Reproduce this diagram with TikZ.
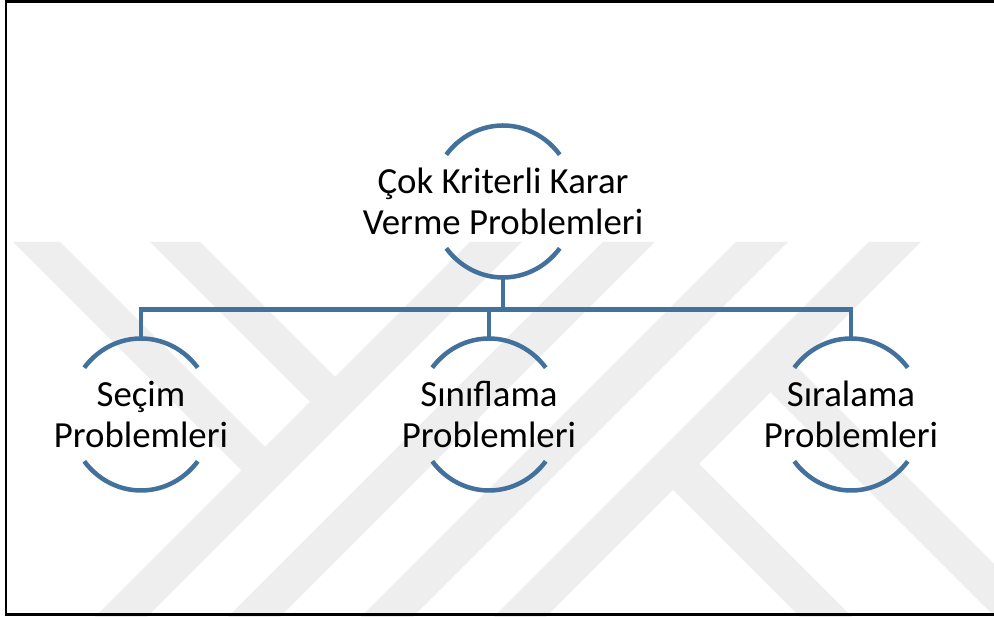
\documentclass[tikz,border=0pt]{standalone}
\usepackage{fontspec}
\setmainfont{Carlito}
\definecolor{arcblue}{RGB}{65,113,156}
\definecolor{markgray}{RGB}{238,238,238}
\begin{document}
\begin{tikzpicture}[x=1pt,y=1pt,
  band/.style={fill=markgray,draw=none},
  topic/.style={rectangle,minimum height=152pt,inner sep=0pt,align=center,
    text=black,font=\fontsize{36.8}{41}\selectfont},
  arcline/.style={draw=arcblue,line width=4.5pt},
  conn/.style={draw=arcblue,line width=4.5pt,line join=miter},
  frame/.style={draw=black,line width=2.5pt}]
\clip (0,0) rectangle (994,617);
\fill[white] (0,0) rectangle (994,617);

% background emblem: light diagonal bands
\fill[band] (13,375) -- (60,375) -- (277.5,157.5) -- (254,134) -- cycle;
\fill[band] (150,375) -- (200,375) -- (347.5,227.5) -- (322.5,202.5) -- cycle;
\fill[band] (470,375) -- (522,375) -- (147,0) -- (95,0) -- cycle;
\fill[band] (603,375) -- (655,375) -- (280,0) -- (228,0) -- cycle;
\fill[band] (736,375) -- (788,375) -- (413,0) -- (361,0) -- cycle;
\fill[band] (869,375) -- (921,375) -- (546,0) -- (494,0) -- cycle;
\fill[band] (660,140) -- (686,166) -- (852,0) -- (800,0) -- cycle;
\fill[band] (757.5,237.5) -- (783.5,263.5) -- (1047,0) -- (995,0) -- cycle;

% frame
\draw[frame] (6,2.4) rectangle (1010,615.7);

% topics
\node[topic] (top)   at (503,415.5) {Çok Kriterli Karar\\Verme Problemleri};
\node[topic] (secim) at (141,202.5) {Seçim\\Problemleri};
\node[topic] (sinif) at (489,202.5) {Sınıflama\\Problemleri};
\node[topic] (sira)  at (851,202.5) {Sıralama\\Problemleri};

% open circle brackets around each topic
\foreach \n in {top,secim,sinif,sira}{
  \draw[arcline] (\n.center) ++(38:72 and 76)
    arc[start angle=38,end angle=142,x radius=72,y radius=76];
  \draw[arcline] (\n.center) ++(218:72 and 76)
    arc[start angle=218,end angle=322,x radius=72,y radius=76];
}

% hierarchy connectors
\coordinate (bus) at (503,307.5);
\draw[conn] (top.south) -- (top.south |- bus);
\draw[conn] (secim.north) -- (secim.north |- bus) -- (sira.north |- bus) -- (sira.north);
\draw[conn] (sinif.north) -- (sinif.north |- bus);
\end{tikzpicture}
\end{document}
